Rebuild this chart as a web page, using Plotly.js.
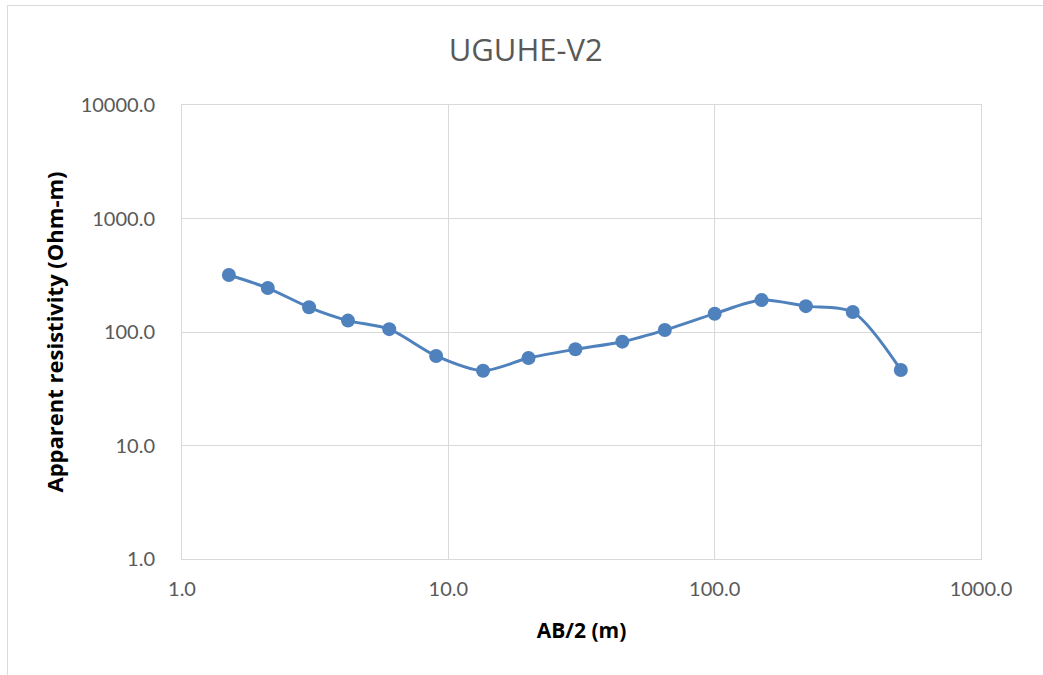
<!DOCTYPE html>
<html>
<head>
<meta charset="utf-8">
<script src="https://cdn.plot.ly/plotly-3.0.1.min.js"></script>
<style>
  body { margin: 0; background: #fff; }
  #plot1 { width: 1043px; height: 675px; }
  #frame { position: absolute; left: 7px; top: 5px; width: 1040px; height: 680px;
           border: 1px solid #d9d9d9; pointer-events: none; }
</style>
</head>
<body>
<div id="plot1"></div>
<div id="frame"></div>
<script>
// Sounding UGUHE-V2
var ab2 = [1.5, 2.1, 3, 4.2, 6, 9, 13.5, 20, 30, 45, 65, 100, 150, 220, 330, 500];
var rho = [318, 244, 165, 126, 106, 61.5, 45.6, 59, 70.4, 82.2, 104, 145, 191, 169, 150, 46.3];

var xTicks = [1, 10, 100, 1000];
var xLabels = ['1.0', '10.0', '100.0', '1000.0'];
var yTicks = [1, 10, 100, 1000, 10000];
var yLabels = ['1.0', '10.0', '100.0', '1000.0', '10000.0'];

var tickFont = 'Lato, "Open Sans", sans-serif';
var titleFont = '"Open Sans", Lato, sans-serif';

var trace = {
	x: ab2,
	y: rho,
	mode: 'lines+markers',
	type: 'scatter',
	line: {color: '#4f81bd', width: 3, shape: 'spline', smoothing: 0.8},
	marker: {color: '#4f81bd', size: 14}
};

var layout = {
	width: 1043,
	height: 675,
	margin: {l: 182, r: 62, t: 105, b: 116},
	paper_bgcolor: '#fff',
	plot_bgcolor: '#fff',
	showlegend: false,
	font: {family: tickFont, color: '#595959', size: 20},
	title: {
		text: 'UGUHE-V2',
		font: {family: titleFont, size: 31, color: '#595959'},
		x: 0.504, xref: 'container', xanchor: 'center',
		y: 0.926, yref: 'container', yanchor: 'middle'
	},
	xaxis: {
		type: 'log',
		range: [0, 3],
		tickvals: xTicks,
		ticktext: xLabels,
		showgrid: true,
		gridcolor: '#d9d9d9',
		gridwidth: 1,
		showline: true,
		mirror: true,
		linecolor: '#d9d9d9',
		zeroline: false,
		ticks: '',
		ticklabelstandoff: 12,
		tickfont: {family: tickFont, size: 20, color: '#595959'},
		title: {text: '<b>AB/2 (m)</b>', font: {family: titleFont, size: 21, color: '#000'}, standoff: 24}
	},
	yaxis: {
		type: 'log',
		range: [0, 4],
		tickvals: yTicks,
		ticktext: yLabels,
		showgrid: true,
		gridcolor: '#d9d9d9',
		gridwidth: 1,
		showline: true,
		mirror: true,
		linecolor: '#d9d9d9',
		zeroline: false,
		ticks: '',
		ticklabelstandoff: 22,
		tickfont: {family: tickFont, size: 20, color: '#595959'},
		title: {text: '<b>Apparent resistivity (Ohm-m)</b>', font: {family: titleFont, size: 22, color: '#000'}, standoff: 10}
	}
};

Plotly.newPlot('plot1', [trace], layout, {displayModeBar: false, staticPlot: true});
</script>
</body>
</html>
